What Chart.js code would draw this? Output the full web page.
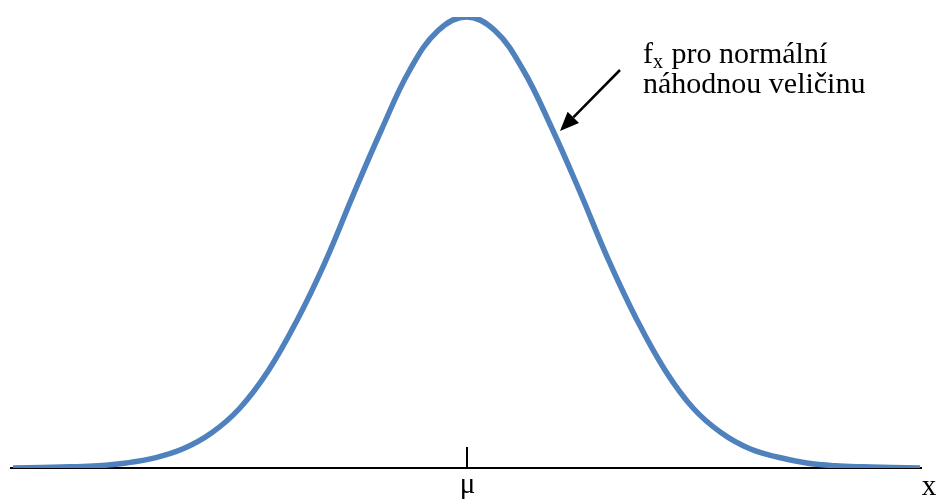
<!DOCTYPE html>
<html>
<head>
<meta charset="utf-8">
<script src="https://cdn.jsdelivr.net/npm/chart.js@4"></script>
<style>
  html, body { margin: 0; padding: 0; background: #fff; }
  #wrap { width: 941px; height: 500px; }
</style>
</head>
<body>
<div id="wrap"><canvas id="myChart" width="941" height="500"></canvas></div>
<script>
// x in units of sigma, mu at 0
const xValues = [-4, -3.75, -3.5, -3.25, -3, -2.75, -2.5, -2.25, -2, -1.75, -1.5, -1.25, -1, -0.75, -0.5, -0.25,
    0, 0.25, 0.5, 0.75, 1, 1.25, 1.5, 1.75, 2, 2.25, 2.5, 2.75, 3, 3.25, 3.5, 3.75, 4];
const densityValues = [0, 0.0005, 0.001, 0.002, 0.0045, 0.009, 0.017, 0.031, 0.053, 0.086, 0.13, 0.182, 0.242, 0.30, 0.353, 0.388,
    0.4, 0.388, 0.353, 0.302, 0.245, 0.185, 0.132, 0.087, 0.053, 0.031, 0.017, 0.0095, 0.0045, 0.002, 0.001, 0.0005, 0];
const tickValues = [0];
const tickLabels = ['μ'];
const axisTitle = 'x';
const noteLines = [['f', 'x', ' pro normální'], ['náhodnou veličinu']];

const serif = '"Liberation Serif", "DejaVu Serif", serif';

const drawingPlugin = {
    id: 'drawing',
    beforeDatasetsDraw(chart) {
        const { ctx, chartArea, scales } = chart;
        const y0 = scales.y.getPixelForValue(0);
        ctx.save();
        ctx.strokeStyle = '#000';
        ctx.lineWidth = 2;
        ctx.beginPath();
        ctx.moveTo(chartArea.left - 3, y0);
        ctx.lineTo(chartArea.right + 2, y0);
        ctx.stroke();
        // tick marks above the axis
        tickValues.forEach(v => {
            const x = Math.round(scales.x.getPixelForValue(v));
            ctx.beginPath();
            ctx.moveTo(x, y0);
            ctx.lineTo(x, y0 - 21);
            ctx.stroke();
        });
        ctx.restore();
    },
    afterDraw(chart) {
        const { ctx, chartArea, scales } = chart;
        const y0 = scales.y.getPixelForValue(0);
        ctx.save();
        ctx.fillStyle = '#000';
        ctx.textBaseline = 'alphabetic';

        // tick labels
        ctx.font = '29px ' + serif;
        ctx.textAlign = 'center';
        tickValues.forEach((v, i) => {
            ctx.fillText(tickLabels[i], scales.x.getPixelForValue(v) + 1, y0 + 25);
        });
        ctx.fillText(axisTitle, chartArea.right + 9, y0 + 27);

        // annotation
        ctx.textAlign = 'left';
        const fs = 30;
        let x = 643, y = 63;
        ctx.font = fs + 'px ' + serif;
        ctx.fillText(noteLines[0][0], x, y);
        x += ctx.measureText(noteLines[0][0]).width;
        ctx.font = Math.round(fs * 0.65) + 'px ' + serif;
        ctx.fillText(noteLines[0][1], x, y + 5);
        x += ctx.measureText(noteLines[0][1]).width + 1;
        ctx.font = fs + 'px ' + serif;
        ctx.fillText(noteLines[0][2], x, y);
        ctx.fillText(noteLines[1][0], 643, y + 30);

        // arrow
        const tail = { x: 620, y: 70 }, tip = { x: 560, y: 131 };
        const ang = Math.atan2(tip.y - tail.y, tip.x - tail.x);
        const hl = 19, hw = 8;
        const bx = tip.x - hl * Math.cos(ang), by = tip.y - hl * Math.sin(ang);
        ctx.strokeStyle = '#000';
        ctx.lineWidth = 2.5;
        ctx.beginPath();
        ctx.moveTo(tail.x, tail.y);
        ctx.lineTo(bx, by);
        ctx.stroke();
        ctx.beginPath();
        ctx.moveTo(tip.x, tip.y);
        ctx.lineTo(bx + hw * Math.sin(ang), by - hw * Math.cos(ang));
        ctx.lineTo(bx - hw * Math.sin(ang), by + hw * Math.cos(ang));
        ctx.closePath();
        ctx.fill();
        ctx.restore();
    }
};

new Chart(document.getElementById('myChart').getContext('2d'), {
    type: 'line',
    data: {
        datasets: [{
            data: xValues.map((x, i) => ({ x: x, y: densityValues[i] })),
            borderColor: '#4f81bd',
            borderWidth: 5.5,
            tension: 0.4,
            pointRadius: 0,
            fill: false
        }]
    },
    options: {
        responsive: false,
        animation: false,
        layout: {
            padding: { left: 13, right: 21, top: 17, bottom: 32 }
        },
        plugins: {
            legend: { display: false },
            tooltip: { enabled: false }
        },
        scales: {
            x: { type: 'linear', min: -4, max: 4, display: false },
            y: { min: 0, max: 0.4, display: false }
        }
    },
    plugins: [drawingPlugin]
});
</script>
</body>
</html>
